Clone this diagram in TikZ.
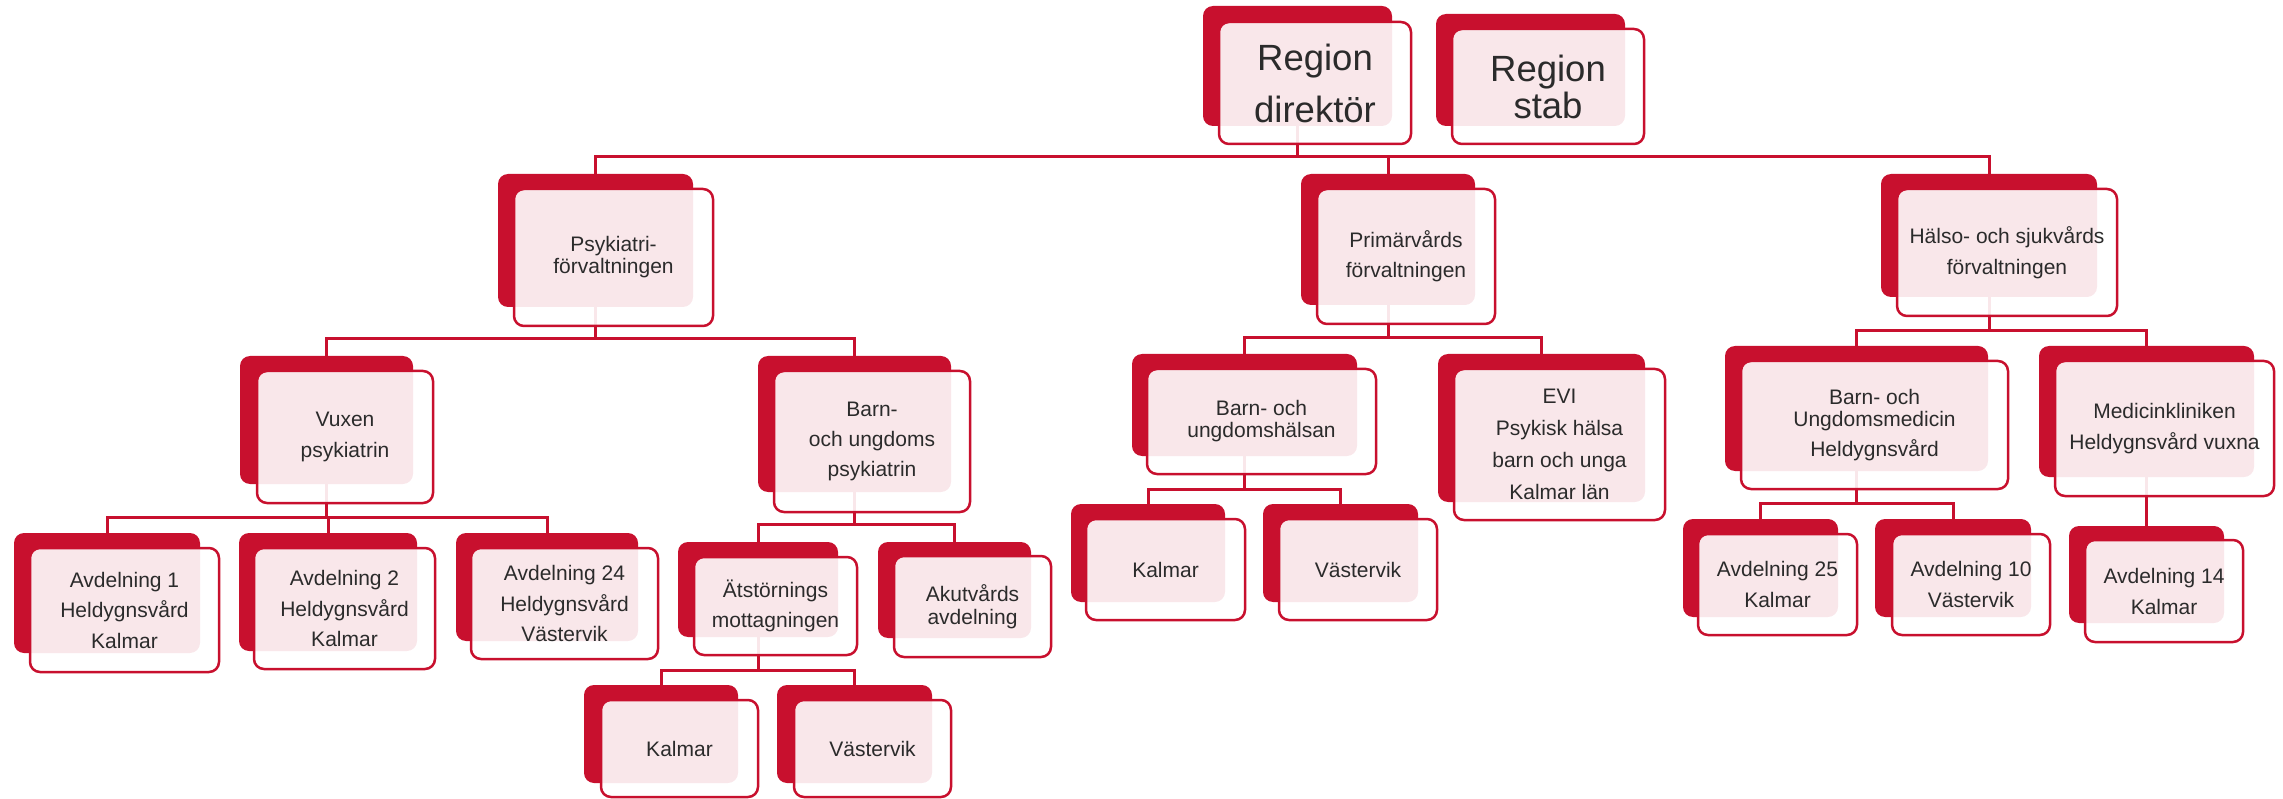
\documentclass[tikz,border=0pt]{standalone}
\usepackage{fontspec}
\setmainfont{Liberation Sans}
\usetikzlibrary{fit,backgrounds}
\definecolor{rred}{HTML}{C8102E}
\definecolor{txt}{HTML}{2B2B2B}
\tikzset{
  backbox/.style={fill=rred, rounded corners=10pt, inner sep=0pt, outer sep=0pt},
  frontbox/.style={draw=rred, line width=2.5pt, fill=white, fill opacity=0.9,
    rounded corners=10pt, inner sep=0pt, outer sep=0pt},
  boxtext/.style={inner sep=0pt, align=center, text=txt, anchor=center},
  conn/.style={draw=rred, line width=3pt},
}
\newcommand\fs[1]{\fontsize{21}{#1}\selectfont}
\newcommand\obox[5]{%
  \node[backbox, fit={#2}] (#1-b) {};
  \node[frontbox, fit={#3}] (#1) {};
  \node[boxtext, font=#4] (#1-t) at (#1.center) {#5};}
\begin{document}
\begin{tikzpicture}[x=1pt,y=-1pt]
\useasboundingbox (0,0) rectangle (2283,799);
% level 0
\obox{dir}{(1203,6)(1392,126)}{(1219,22)(1411,144)}{\fontsize{36.5}{52}\selectfont}{Region\\direktör}
\obox{stab}{(1436,14)(1625,126)}{(1452,29)(1644,144)}{\fontsize{36.5}{37}\selectfont}{Region\\stab}
% level 1
\obox{psy}{(498,174)(693,307)}{(514,189)(713,326)}{\fs{22}}{Psykiatri-\\förvaltningen}
\obox{prim}{(1301,174)(1475,305)}{(1317,189)(1495,324)}{\fs{30}}{Primärvårds\\förvaltningen}
\obox{hs}{(1881,174)(2097,297)}{(1897,189)(2117,316)}{\fs{31}}{Hälso- och sjukvårds\\förvaltningen}
% level 2
\obox{vux}{(240,356)(413,484)}{(257,371)(433,503)}{\fs{31}}{Vuxen\\psykiatrin}
\obox{bup}{(758,356)(951,492)}{(774,371)(970,512)}{\fs{30}}{Barn-\\och ungdoms\\psykiatrin}
\obox{buh}{(1132,354)(1357,456)}{(1147,369)(1376,474)}{\fs{22}}{Barn- och\\ungdomshälsan}
\obox{evi}{(1438,354)(1645,502)}{(1454,369)(1665,520)}{\fs{32}}{EVI\\Psykisk hälsa\\barn och unga\\Kalmar län}
\obox{bum}{(1725,346)(1988,471)}{(1741,361)(2008,489)}{\fs{22}}{Barn- och\\Ungdomsmedicin\\[8pt]Heldygnsvård}
\obox{med}{(2039,346)(2254,477)}{(2055,361)(2274,496)}{\fs{31}}{Medicinkliniken\\Heldygnsvård vuxna}
% level 3
\obox{a1}{(14,533)(200,653)}{(30,548)(219,672)}{\fs{30.5}}{Avdelning 1\\Heldygnsvård\\Kalmar}
\obox{a2}{(239,533)(417,651)}{(254,548)(435,669)}{\fs{30.5}}{Avdelning 2\\Heldygnsvård\\Kalmar}
\obox{a24}{(456,533)(638,641)}{(471,548)(658,659)}{\fs{30.5}}{Avdelning 24\\Heldygnsvård\\Västervik}
\obox{ats}{(678,542)(838,637)}{(694,557)(857,655)}{\fs{30.5}}{Ätstörnings\\mottagningen}
\obox{aku}{(878,542)(1031,638)}{(894,556)(1051,657)}{\fs{23}}{Akutvårds\\avdelning}
\obox{kal2}{(1071,504)(1225,602)}{(1086,519)(1245,620)}{\fs{30}}{Kalmar}
\obox{vas2}{(1263,504)(1418,602)}{(1279,519)(1437,620)}{\fs{30}}{Västervik}
\obox{a25}{(1683,519)(1838,617)}{(1698,534)(1857,635)}{\fs{31}}{Avdelning 25\\Kalmar}
\obox{a10}{(1875,519)(2031,617)}{(1892,534)(2050,635)}{\fs{31}}{Avdelning 10\\Västervik}
\obox{a14}{(2069,526)(2224,623)}{(2085,540)(2243,642)}{\fs{31}}{Avdelning 14\\Kalmar}
% level 4
\obox{kal1}{(584,685)(738,783)}{(601,700)(758,797)}{\fs{30}}{Kalmar}
\obox{vas1}{(777,685)(932,783)}{(794,700)(951,797)}{\fs{30}}{Västervik}
% bar levels
\coordinate (bar0) at (0,157);
\coordinate (barpsy) at (0,339);
\coordinate (barprim) at (0,338);
\coordinate (barhs) at (0,331);
\coordinate (barvux) at (0,517);
\coordinate (barbup) at (0,524);
\coordinate (barbuh) at (0,489);
\coordinate (barbum) at (0,503);
\coordinate (barats) at (0,670);
\begin{scope}[on background layer]
  \draw[conn] (dir-b.south) -- (dir-b.south |- bar0);
  \draw[conn] (psy-b.north) |- (hs-b.north |- bar0) -- (hs-b.north);
  \draw[conn] (prim-b.north) -- (prim-b.north |- bar0);
  % psykiatri
  \draw[conn] (psy-b.south) -- (psy-b.south |- barpsy);
  \draw[conn] (vux-b.north) |- (bup-b.north |- barpsy) -- (bup-b.north);
  % primarvard
  \draw[conn] (prim-b.south) -- (prim-b.south |- barprim);
  \draw[conn] (buh-b.north) |- (evi-b.north |- barprim) -- (evi-b.north);
  % halso
  \draw[conn] (hs-b.south) -- (hs-b.south |- barhs);
  \draw[conn] (bum-b.north) |- (med-b.north |- barhs) -- (med-b.north);
  % vuxen
  \draw[conn] (vux-b.south) -- (vux-b.south |- barvux);
  \draw[conn] (a1-b.north) |- (a24-b.north |- barvux) -- (a24-b.north);
  \draw[conn] (a2-b.north) -- (a2-b.north |- barvux);
  % bup
  \draw[conn] (bup-b.south) -- (bup-b.south |- barbup);
  \draw[conn] (ats-b.north) |- (aku-b.north |- barbup) -- (aku-b.north);
  % ats
  \draw[conn] (ats-b.south) -- (ats-b.south |- barats);
  \draw[conn] (kal1-b.north) |- (vas1-b.north |- barats) -- (vas1-b.north);
  % buh
  \draw[conn] (buh-b.south) -- (buh-b.south |- barbuh);
  \draw[conn] (kal2-b.north) |- (vas2-b.north |- barbuh) -- (vas2-b.north);
  % bum
  \draw[conn] (bum-b.south) -- (bum-b.south |- barbum);
  \draw[conn] (a25-b.north) |- (a10-b.north |- barbum) -- (a10-b.north);
  % med
  \draw[conn] (med-b.south) -- (a14-b.north);
\end{scope}
\end{tikzpicture}
\end{document}
